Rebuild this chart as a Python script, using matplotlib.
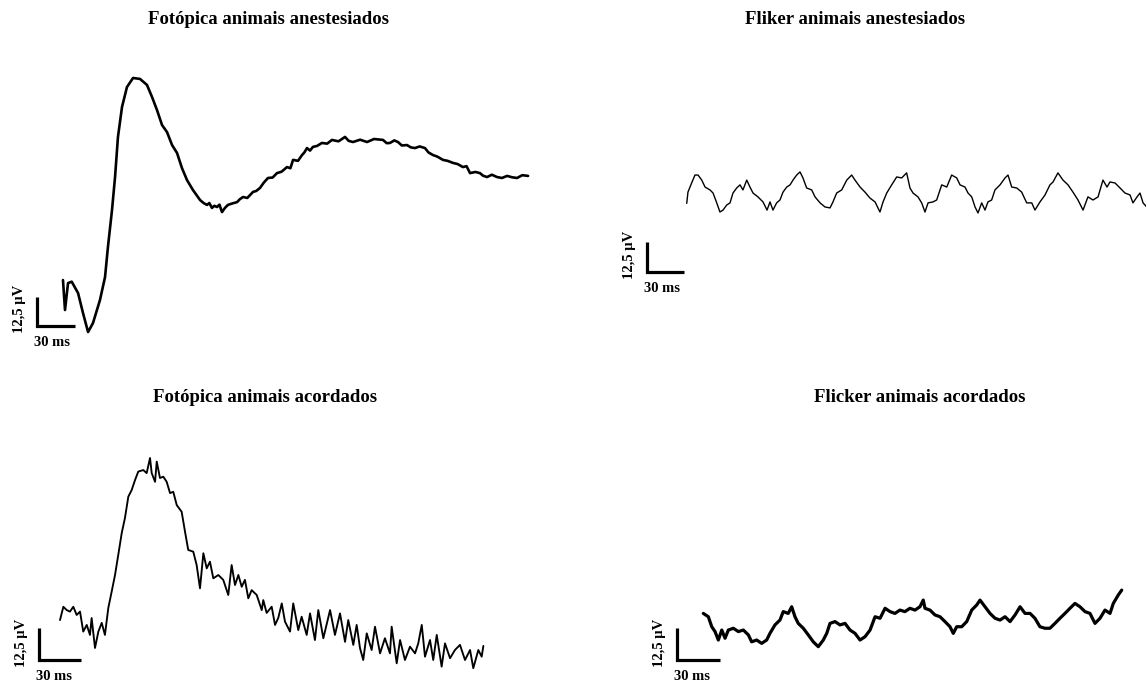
import matplotlib
matplotlib.use("Agg")
import matplotlib.pyplot as plt

# ---------------- data (time in ms, amplitude in µV) ----------------
titles = ["Fotópica animais anestesiados", "Fliker animais anestesiados",
          "Fotópica animais acordados", "Flicker animais acordados"]
scale_ms = 30
scale_uv = 12.5
scale_ms_label = "30 ms"
scale_uv_label = "12,5 µV"

foto_anest_t = [20.5, 22.1, 24.5, 27.4, 32.4, 36.3, 40.3, 44.2, 49.7, 53.7, 56.0, 59.2, 61.6, 63.9,
                67.1, 71.0, 75.8, 81.3, 86.8, 90.8, 94.7, 98.7, 102.6, 106.6, 110.5, 114.4, 118.4,
                123.1, 128.7, 131.5, 134.2, 136.0, 138.1, 140.0, 142.1, 144.0, 146.0, 148.5, 150.7,
                154.0, 157.9, 160.0, 162.6, 166.0, 170.5, 173.0, 176.0, 179.0, 182.3, 186.0, 189.4,
                193.0, 197.3, 200.0, 202.1, 206.0, 209.2, 211.0, 213.1, 215.5, 217.8, 221.0, 224.9,
                229.0, 232.8, 238.0, 243.1, 246.0, 249.4, 255.0, 260.5, 266.0, 273.1, 276.0, 278.6,
                282.0, 284.9, 288.0, 292.0, 295.0, 298.3, 302.0, 306.2, 309.0, 312.5, 316.0, 320.4,
                324.0, 328.3, 332.0, 336.2, 339.0, 341.8, 346.0, 349.6, 352.0, 355.2, 359.0, 363.1,
                367.0, 371.0, 375.0, 378.9, 383.0, 387.6]
foto_anest_v = [19.8, 6.9, 18.5, 19.1, 14.2, 5.6, -2.6, 1.3, 11.2, 21.1, 34.1, 50.0, 64.2, 81.5,
                94.4, 103.0, 106.9, 106.5, 103.9, 98.7, 93.1, 86.6, 83.6, 78.0, 74.6, 68.1, 62.9,
                58.6, 54.3, 53.0, 52.2, 53.0, 50.9, 51.8, 51.3, 52.3, 49.1, 51.0, 52.2,
                52.8, 53.4, 54.6, 55.6, 55.2, 57.8, 58.2, 59.5, 61.8, 63.8, 64.0, 65.9,
                66.5, 68.5, 68.0, 71.6, 71.2, 73.7, 74.8, 76.7, 75.6, 77.2, 77.6, 78.9,
                78.6, 80.2, 79.6, 81.5, 79.8, 79.3, 80.3, 79.3, 80.6, 80.2, 78.8, 78.9,
                80.0, 79.3, 77.8, 78.0, 77.0, 76.7, 77.4, 76.7, 74.8, 73.7, 73.0, 71.6,
                71.2, 70.3, 69.8, 68.5, 68.9, 65.9, 66.4, 65.9, 64.8, 64.2, 65.2, 64.2,
                63.8, 64.7, 64.1, 63.8, 65.0, 64.7]

flik_anest_t = [32.3, 33.3, 36.3, 39.0, 41.5, 44.5, 47.2, 51.2, 53.7, 56.7, 59.3, 61.8, 64.8, 67.5,
                69.9, 72.9, 75.6, 78.0, 81.1, 83.7, 86.2, 90.2, 94.3, 97.6, 100.0, 102.4, 105.4,
                108.1, 110.6, 113.6, 116.3, 118.7, 121.7, 124.4, 126.8, 129.8, 133.9, 136.6, 140.7,
                144.7, 148.8, 151.2, 154.2, 158.3, 162.4, 166.4, 169.1, 173.2, 177.2, 181.3, 185.4,
                189.4, 191.9, 194.9, 198.9, 203.0, 207.1, 211.1, 213.8, 216.3, 220.3, 223.3, 226.0,
                228.5, 232.5, 235.5, 239.6, 243.7, 247.7, 251.8, 254.5, 258.5, 261.0, 264.0, 266.7,
                269.1, 272.1, 274.8, 277.2, 280.2, 282.9, 287.0, 291.1, 293.5, 296.5, 300.6, 304.6,
                308.7, 312.8, 315.4, 319.5, 323.6, 327.6, 330.1, 334.1, 338.2, 342.3, 346.3, 350.4,
                354.5, 358.5, 362.6, 366.7, 370.7, 374.0, 376.4, 380.5, 384.6, 388.6, 392.7, 395.1,
                398.4, 400.8, 403.3, 406.3]
flik_anest_v = [28.6, 33.3, 37.1, 40.4, 40.4, 38.3, 35.4, 34.2, 32.9, 28.8, 25.0, 25.8, 27.9, 28.8,
                32.9, 35.0, 36.3, 34.2, 38.3, 35.4, 32.9, 31.3, 29.2, 25.8, 29.2, 25.8, 28.8,
                30.0, 33.3, 35.4, 36.3, 38.3, 40.4, 41.7, 39.2, 35.0, 34.2, 31.3, 28.8,
                27.1, 26.7, 29.2, 32.9, 34.2, 38.3, 40.4, 38.3, 35.4, 33.3, 30.8, 29.2,
                25.0, 29.2, 32.9, 36.3, 39.6, 39.2, 41.3, 35.0, 32.9, 31.3, 28.8, 25.0,
                28.8, 29.2, 30.0, 36.3, 35.4, 40.4, 39.2, 36.3, 35.4, 32.9, 31.3, 27.1,
                24.6, 28.8, 25.8, 29.2, 30.0, 34.2, 36.3, 39.2, 40.4, 35.4, 35.0, 33.3,
                28.8, 28.8, 25.8, 29.2, 32.1, 36.3, 37.5, 41.3, 38.3, 36.3, 33.3, 30.0,
                25.8, 31.3, 30.0, 31.3, 38.3, 35.4, 37.5, 37.1, 35.0, 32.9, 32.1, 28.8,
                31.3, 32.9, 28.8, 27.1]

foto_acord_t = [15.0, 17.4, 19.8, 22.1, 24.5, 26.9, 29.3, 31.6, 34.1, 36.4, 37.6, 40.0, 42.4, 44.8,
                47.1, 49.5, 51.9, 54.3, 56.6, 59.1, 61.4, 63.8, 66.2, 68.6, 70.9, 74.5, 76.9, 79.3,
                80.5, 82.9, 84.1, 86.4, 88.8, 91.2, 93.6, 95.9, 98.4, 101.9, 104.3, 106.6, 110.2,
                112.6, 115.0, 117.4, 119.8, 122.1, 124.5, 128.1, 131.6, 135.2, 137.6, 140.0, 142.4,
                144.8, 147.1, 149.5, 151.9, 155.5, 159.1, 160.2, 162.6, 166.2, 168.6, 170.9, 173.4,
                175.7, 179.3, 181.6, 185.2, 187.6, 191.2, 193.6, 197.1, 199.5, 203.1, 207.9, 211.4,
                215.0, 218.6, 220.9, 224.5, 226.9, 229.3, 231.6, 234.1, 237.6, 240.0, 243.6, 247.1,
                250.7, 251.9, 255.5, 257.9, 261.4, 265.0, 268.6, 270.9, 273.4, 275.7, 279.3, 281.6,
                284.1, 287.6, 290.0, 293.6, 297.1, 300.7, 304.3, 307.9, 310.2, 313.8, 316.2, 317.4]
foto_acord_v = [15.6, 20.8, 19.5, 18.9, 20.8, 17.6, 18.9, 11.1, 13.7, 9.8, 16.4, 4.7, 11.1, 14.5,
                9.8, 20.3, 26.7, 33.2, 41.0, 49.6, 55.5, 63.8, 66.4, 70.3, 73.6, 74.2, 73.0, 78.9,
                73.0, 69.6, 77.5, 71.1, 71.6, 69.6, 65.2, 65.7, 60.5, 57.9, 50.1, 43.0, 42.3,
                37.1, 28.0, 41.7, 35.8, 38.4, 31.9, 33.2, 31.3, 25.4, 37.1, 29.3, 33.2,
                28.6, 31.3, 24.1, 27.3, 25.4, 19.5, 23.4, 18.4, 20.8, 13.7, 16.4, 22.1,
                15.0, 11.1, 22.1, 11.7, 16.9, 9.8, 18.2, 7.8, 19.5, 8.5, 19.5, 9.8,
                18.2, 7.1, 15.6, 5.9, 13.7, 4.6, 0.0, 10.4, 3.9, 13.0, 2.6, 8.5,
                2.6, 13.0, -1.3, 7.8, 0.0, 5.2, 2.6, 6.5, 13.7, 1.3, 7.8, 0.0,
                9.8, -2.6, 6.5, 0.7, 3.9, 5.9, 0.0, 3.9, -3.2, 3.9, 1.3, 5.5]

flick_acord_t = [18.4, 21.9, 24.3, 26.6, 28.9, 31.3, 33.6, 35.9, 39.4, 42.9, 46.4, 49.9, 52.2, 55.7,
                 59.2, 62.7, 65.0, 68.5, 72.0, 74.3, 77.8, 80.2, 82.5, 84.8, 88.3, 91.8, 95.3, 98.8,
                 102.3, 104.7, 107.0, 110.5, 114.0, 117.5, 121.0, 124.5, 128.0, 131.5, 135.0, 138.5,
                 142.0, 145.5, 149.0, 152.4, 155.9, 159.4, 162.9, 166.4, 169.9, 172.2, 173.4, 176.9,
                 180.4, 183.9, 187.4, 190.9, 193.2, 195.6, 199.1, 202.6, 206.1, 209.6, 211.9, 215.4,
                 218.9, 222.4, 225.9, 229.4, 232.9, 236.4, 239.9, 243.4, 246.9, 250.3, 253.8, 257.3,
                 260.8, 264.3, 267.8, 271.3, 274.8, 278.3, 281.8, 285.3, 288.8, 292.3, 295.8, 299.3,
                 302.8, 305.1, 308.6, 311.0]
flick_acord_v = [18.2, 16.9, 13.0, 11.1, 7.8, 11.7, 8.5, 11.7, 12.4, 11.1, 11.7, 9.8, 7.1, 7.8,
                 6.5, 7.8, 10.4, 13.7, 15.6, 18.9, 18.2, 20.8, 16.9, 14.3, 12.4, 9.8, 7.1, 5.2,
                 7.8, 10.4, 14.3, 15.0, 13.7, 14.3, 11.7, 10.4, 7.8, 9.1, 11.7, 16.9,
                 16.3, 20.2, 18.9, 18.2, 19.5, 18.9, 20.2, 19.5, 20.8, 23.4, 20.2, 19.5,
                 17.6, 16.9, 15.0, 13.0, 10.4, 13.0, 13.0, 15.0, 19.5, 21.5, 23.4, 20.8,
                 18.2, 16.3, 15.6, 16.9, 15.0, 17.6, 20.8, 18.2, 18.2, 16.3, 13.0, 12.4,
                 12.4, 14.3, 16.3, 18.2, 20.2, 22.1, 20.8, 18.9, 18.2, 14.3, 16.3, 19.5,
                 18.2, 22.1, 25.4, 27.3]

# ---------------- layout (pixels) ----------------
W, H, DPI = 1146, 686, 100
fig = plt.figure(figsize=(W / DPI, H / DPI), dpi=DPI)
fig.patch.set_facecolor("white")

serif = ["Liberation Serif", "DejaVu Serif"]

panels = [
    # data, box (x0,y0,x1,y1) px, bar corner px, px/ms, px/uV, line width, title center px
    (foto_anest_t, foto_anest_v, (0, 40, 573, 370), (37, 326), 1.267, 2.32, 1.9, (268, 19)),
    (flik_anest_t, flik_anest_v, (573, 40, 1146, 370), (647, 272), 1.23, 2.4, 1.0, (855, 19)),
    (foto_acord_t, foto_acord_v, (0, 410, 573, 686), (39, 660), 1.4, 2.56, 1.35, (265, 398)),
    (flick_acord_t, flick_acord_v, (573, 410, 1146, 686), (677, 660), 1.43, 2.56, 2.3, (920, 398)),
]

for (t, v, box, corner, sx, sy, lw, tpos), title in zip(panels, titles):
    bx0, by0, bx1, by1 = box
    cx, cy = corner
    ax = fig.add_axes([bx0 / W, 1 - by1 / H, (bx1 - bx0) / W, (by1 - by0) / H])
    ax.set_xlim((bx0 - cx) / sx, (bx1 - cx) / sx)
    ax.set_ylim((cy - by1) / sy, (cy - by0) / sy)
    ax.axis("off")
    ax.plot(t, v, color="black", lw=lw, solid_joinstyle="round", solid_capstyle="round")
    # scale bar
    ax.plot([0, 0, scale_ms], [scale_uv, 0, 0], color="black", lw=2.3,
            solid_joinstyle="miter", solid_capstyle="butt")
    ax.annotate(scale_ms_label, xy=(0, 0), xytext=(15, -16), textcoords="offset pixels",
                ha="center", va="center", fontsize=10.5, fontweight="bold", family=serif)
    ax.annotate(scale_uv_label, xy=(0, 0), xytext=(-18, 17), textcoords="offset pixels",
                ha="center", va="center", rotation=90, fontsize=10.5, fontweight="bold",
                family=serif)
    fig.text(tpos[0] / W, 1 - tpos[1] / H, title, ha="center", va="center",
             fontsize=13.5, fontweight="bold", family=serif)

fig.savefig("out.png", dpi=DPI, facecolor="white")
